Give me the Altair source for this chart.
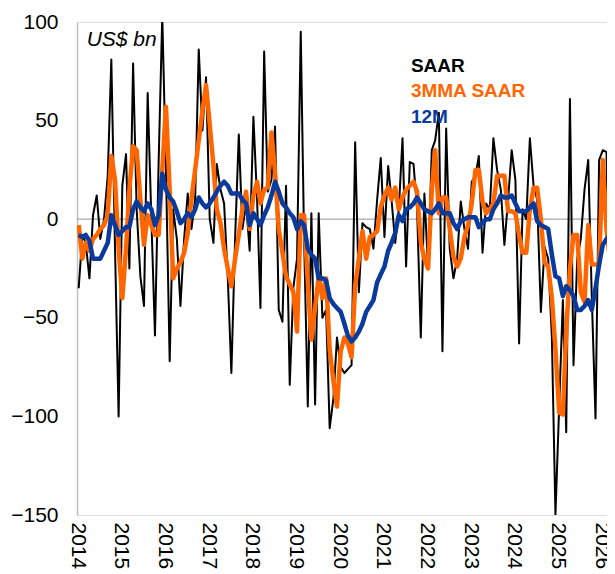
import altair as alt
import pandas as pd

# Monthly data, Jan 2014 onwards (US$ bn)
saar = [-35, -8, -12, -30, 2, 12, -10, 0, 22, 81,
        -15, -100, 17, 33, -25, 79, 5, -29, -44, 64,
        0, -59, 30, 103, 25, -72, 5, -10, -44, -10,
        13, -5, 10, 86, 45, 72, 0, -12, 28, 15,
        8, -30, -78, -10, 43, -5, 8, -16, 52, 10,
        -45, 85, 14, 20, 47, -46, -52, 17, -84, -35,
        -20, 95, -10, -95, 3, -94, 3, -50, -46, -106,
        -91, -60, -75, -78, -76, -74, 39, -37, -2, -4,
        -5, -15, 10, 31, -9, 27, 10, -12, 5, 41,
        -24, 29, 28, 5, -60, 13, -25, 35, 40, 54,
        -67, 46, -15, -30, -20, 9, -5, -15, 19, 22,
        32, -17, 8, 5, 41, 25, 15, -13, 10, 35,
        20, -63, 5, 0, 41, 17, 10, -47, -14, -20,
        -60, -150, -95, -41, -108, 61, -74, -20, -10, 15,
        30, -40, -101, 30, 35, 34, -82, -40]

mma3 = [-3, -20, -12, -16, -10, -8, -5, -3, 2, 32,
        20, -15, -40, -15, 15, 37, 35, 10, -13, 2,
        -3, -8, -8, 25, 57, 15, -30, -25, -22, -17,
        -7, 10, 25, 40, 55, 68, 48, 27, 5, -2,
        -15, -25, -34, -20, -8, 5, 14, -5, 12, 19,
        8, 15, 16, 44, 24, -5, -17, -29, -33, -37,
        -57, 2, 2, -32, -61, -45, -29, -40, -30, -66,
        -82, -95, -67, -60, -63, -70, -34, -20, -6, -20,
        -9, -8, -6, 6, 12, 16, 10, 16, 5, 11,
        15, 17, 19, 14, -12, -20, -25, 15, 35, 3,
        11, 11, -5, -19, -24, -20, -9, -3, 8, 25,
        25, 9, 3, 5, 8, 22, 22, 22, 4, 4,
        3, -8, -17, -17, 5, 16, 16, 0, -22, -24,
        -40, -66, -98, -99, -57, -25, -8, -8, -37, -42,
        -3, -23, -23, -23, 30, -5, -20, -20]

m12 = [-8, -9, -8, -11, -20, -20, -20, -16, -12, 2,
       -3, -8, -6, -4, -4, 5, 9, 6, 4, 8,
       5, -3, 2, 23, 15, 11, 9, 4, -2, 0,
       3, 1, 5, 11, 8, 6, 8, 11, 14, 17,
       19, 17, 13, 13, 13, 10, 8, -3, 3, 0,
       -3, 2, 6, 12, 19, 14, 8, 6, 3, 1,
       -5, -1, -3, -15, -18, -20, -30, -30, -31, -40,
       -43, -45, -47, -53, -59, -62, -60, -57, -53, -47,
       -44, -41, -32, -28, -24, -16, -12, -7, 2, -1,
       5, 6, 8, 11, 8, 5, 4, 3, 5, 8,
       3, 3, 3, -2, -5, -1, 0, 1, 1, 1,
       -4, -2, 0, 0, 5, 8, 12, 11, 11, 12,
       8, 4, 4, 4, 6, 8, -1, -3, -4, -5,
       -18, -29, -30, -39, -34, -36, -39, -46, -46, -44,
       -41, -46, -35, -23, -13, -10, -8, -6]

years = list(range(2014, 2027))
y_ticks = [-150, -100, -50, 0, 50, 100]
legend_labels = ["SAAR", "3MMA SAAR", "12M"]
legend_colors = ["#000000", "#FF6600", "#0A3A9C"]
legend_y = [74.5, 61.9, 48.7]
unit_label = "US$ bn"

FONT = "Liberation Sans"

dates = pd.date_range("2014-01-01", periods=len(saar), freq="MS") + pd.Timedelta(days=14)
df = pd.DataFrame({"date": dates, "SAAR": saar, "3MMA SAAR": mma3, "12M": m12})

x_scale = alt.Scale(domain=[alt.DateTime(year=2014, month=1, date=1),
                            alt.DateTime(year=2026, month=2, date=19)])
y_scale = alt.Scale(domain=[-150, 100], nice=False, zero=False)

x_enc = alt.X("date:T", scale=x_scale,
              axis=alt.Axis(values=[alt.DateTime(year=y, month=1, date=1) for y in years],
                            format="%Y", labelAngle=90, labelFontSize=21,
                            labelFont=FONT, labelColor="#000000", labelPadding=7,
                            labelOverlap=False, labelFlush=False, labelBound=False,
                            domain=False, ticks=False, grid=False, title=None))

y_axis = alt.Axis(values=y_ticks, labelFontSize=21, labelFont=FONT, labelColor="#000000",
                  labelPadding=19, labelFlush=False, ticks=False, grid=False,
                  domain=True, domainColor="#BFBFBF", domainWidth=1.5, title=None)

base = alt.Chart(df)

zero = alt.Chart(pd.DataFrame({"v": [0]})).mark_rule(color="#A6A6A6", strokeWidth=1.2).encode(
    y=alt.Y("v:Q", scale=y_scale, axis=y_axis))

black = base.mark_line(color="#000000", strokeWidth=2, strokeJoin="round", clip=True).encode(
    x=x_enc, y=alt.Y("SAAR:Q", scale=y_scale, axis=y_axis))
orange = base.mark_line(color="#FF6600", strokeWidth=4.5, strokeJoin="round", clip=True).encode(
    x=x_enc, y=alt.Y("3MMA SAAR:Q", scale=y_scale, axis=y_axis))
blue = base.mark_line(color="#0A3A9C", strokeWidth=4.5, strokeJoin="round", clip=True).encode(
    x=x_enc, y=alt.Y("12M:Q", scale=y_scale, axis=y_axis))

leg_df = pd.DataFrame({"label": legend_labels, "color": legend_colors, "y": legend_y,
                       "date": [pd.Timestamp("2021-08-24")] * 3})
legend = alt.Chart(leg_df).mark_text(font=FONT, fontSize=19, fontWeight="bold",
                                     align="left", baseline="alphabetic").encode(
    x=alt.X("date:T", scale=x_scale),
    y=alt.Y("y:Q", scale=y_scale),
    text="label:N",
    color=alt.Color("color:N", scale=None))

unit_df = pd.DataFrame({"label": [unit_label], "date": [pd.Timestamp("2014-03-23")], "y": [88]})
unit = alt.Chart(unit_df).mark_text(font=FONT, fontSize=21, fontStyle="italic",
                                    align="left", baseline="alphabetic", color="#000000").encode(
    x=alt.X("date:T", scale=x_scale),
    y=alt.Y("y:Q", scale=y_scale),
    text="label:N")

chart = alt.layer(zero, black, orange, blue, legend, unit).properties(
    width=530, height=493,
    autosize=alt.AutoSizeParams(type="none"),
    padding={"left": 69, "top": 14, "right": 0, "bottom": 58},
).configure_view(fill="#F2F2F2", stroke=None).configure(background="#FFFFFF")

chart.save("out.html", embed_options={"renderer": "svg", "actions": False})
